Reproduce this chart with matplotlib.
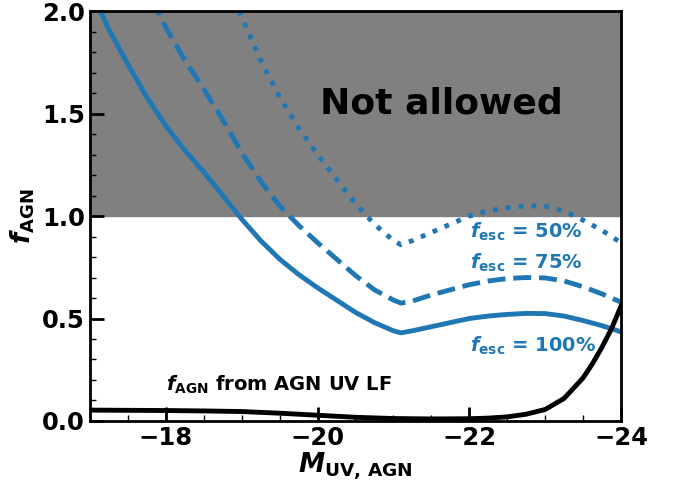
import numpy as np
import matplotlib.pyplot as plt

# absolute UV magnitude of the AGN
muv = [-17.0, -17.25, -17.5, -17.75, -18.0, -18.25, -18.5, -18.75, -19.0, -19.25,
       -19.5, -19.75, -20.0, -20.25, -20.5, -20.75, -21.0, -21.1, -21.25, -21.5,
       -21.75, -22.0, -22.25, -22.5, -22.75, -23.0, -23.25, -23.5, -23.75, -24.0]
# required AGN fraction for each escape fraction
f100 = [2.11, 1.91, 1.74, 1.58, 1.44, 1.32, 1.215, 1.10, 0.985, 0.88,
        0.79, 0.715, 0.65, 0.59, 0.53, 0.48, 0.44, 0.43, 0.44, 0.46,
        0.48, 0.50, 0.512, 0.52, 0.525, 0.524, 0.512, 0.49, 0.465, 0.435]
f75 = [2.81, 2.55, 2.32, 2.11, 1.92, 1.76, 1.62, 1.47, 1.31, 1.17,
       1.05, 0.955, 0.87, 0.79, 0.71, 0.64, 0.59, 0.575, 0.585, 0.615,
       0.64, 0.665, 0.683, 0.695, 0.70, 0.698, 0.683, 0.655, 0.62, 0.58]
f50 = [4.20, 3.82, 3.48, 3.16, 2.88, 2.64, 2.43, 2.20, 1.97, 1.76,
       1.58, 1.43, 1.30, 1.18, 1.06, 0.96, 0.88, 0.86, 0.88, 0.92,
       0.96, 1.00, 1.025, 1.04, 1.05, 1.048, 1.025, 0.98, 0.93, 0.87]
fesc_labels = ['50%', '75%', '100%']

# f_AGN from the AGN UV luminosity function
muv_lf = [-17.0, -17.5, -18.0, -18.5, -19.0, -19.5, -20.0, -20.5, -21.0, -21.5,
          -22.0, -22.25, -22.5, -22.75, -23.0, -23.25, -23.5, -23.625, -23.75,
          -23.875, -24.0]
f_lf = [0.053, 0.052, 0.051, 0.049, 0.046, 0.038, 0.028, 0.018, 0.012, 0.010,
        0.011, 0.014, 0.020, 0.033, 0.056, 0.11, 0.21, 0.28, 0.36,
        0.45, 0.56]

blue = '#1f77b4'

fig = plt.figure(figsize=(6.76, 4.82), dpi=100)
ax = fig.add_axes([0.1331, 0.1266, 0.7855, 0.8504])

ax.axhspan(1, 2, color='gray', zorder=0)

ax.plot(muv, f100, '-', color=blue, lw=3.5)
ax.plot(muv, f75, '--', color=blue, lw=3.5)
ax.plot(muv, f50, ':', color=blue, lw=3.5)
ax.plot(muv_lf, f_lf, '-', color='black', lw=3.5)

ax.text(-21.63, 1.50, 'Not allowed', fontsize=26, fontweight='bold',
        ha='center', va='baseline')
for lab, y in zip(fesc_labels, [0.896, 0.745, 0.338]):
    ax.text(-22.01, y, r'$\boldsymbol{f}_{\mathbf{esc}}$ = ' + lab,
            color=blue, fontsize=14, fontweight='bold', va='baseline')
ax.text(-18.0, 0.148, r'$\boldsymbol{f}_{\mathbf{AGN}}$' + ' from AGN UV LF',
        fontsize=14, fontweight='bold', va='baseline')

ax.set_xlim(-17, -24)
ax.set_ylim(0, 2)
ax.set_xticks([-18, -20, -22, -24])
ax.set_yticks([0.0, 0.5, 1.0, 1.5, 2.0])
ax.set_xticks(np.arange(-17.5, -24, -0.5), minor=True)
ax.set_yticks(np.arange(0.1, 2.0, 0.1), minor=True)

ax.tick_params(which='both', direction='in')
ax.tick_params(which='major', length=10, width=2, labelsize=17.5)
ax.tick_params(which='minor', length=4.5, width=1)
for lab in ax.get_xticklabels() + ax.get_yticklabels():
    lab.set_fontweight('bold')
for sp in ax.spines.values():
    sp.set_linewidth(2)

ax.set_xlabel(r'$\boldsymbol{M}_{\mathbf{UV,\,AGN}}$', fontsize=19, labelpad=0)
ax.set_ylabel(r'$\boldsymbol{f}_{\mathbf{AGN}}$', fontsize=18.5, labelpad=4)

fig.savefig('out.png', dpi=100)
